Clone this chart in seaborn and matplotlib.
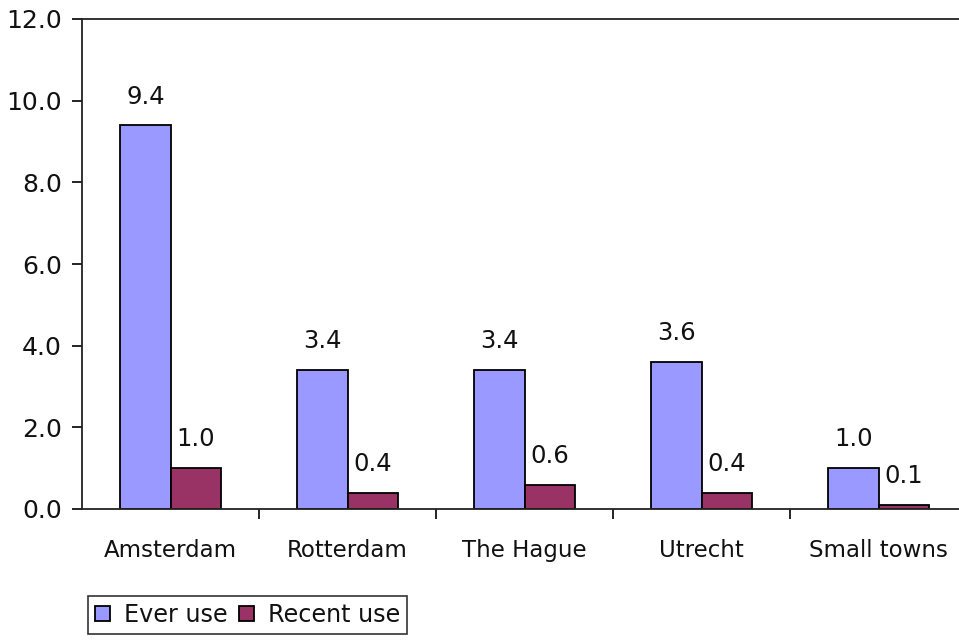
import matplotlib
matplotlib.use("Agg")
import matplotlib.pyplot as plt
import seaborn as sns
import pandas as pd
from matplotlib.ticker import FormatStrFormatter, FixedLocator

cities = ["Amsterdam", "Rotterdam", "The Hague", "Utrecht", "Small towns"]
ever_use = [9.4, 3.4, 3.4, 3.6, 1.0]
recent_use = [1.0, 0.4, 0.6, 0.4, 0.1]
series_names = ["Ever use", "Recent use"]
y_ticks = [0, 2, 4, 6, 8, 10, 12]

df = pd.DataFrame({
    "city": cities * 2,
    "use": [series_names[0]] * len(cities) + [series_names[1]] * len(cities),
    "value": ever_use + recent_use,
})

sns.set_theme(style="white")
plt.rcParams["font.family"] = ["DejaVu Sans"]
plt.rcParams["font.size"] = 16.5

fig = plt.figure(figsize=(9.59, 6.4), dpi=100)
ax = fig.add_axes([82 / 959, 1 - 509 / 640, 885 / 959, 490 / 640])

palette = {"Ever use": "#9999FF", "Recent use": "#993366"}
sns.barplot(data=df, x="city", y="value", hue="use", order=cities,
            hue_order=series_names, palette=palette, width=0.565, gap=0,
            edgecolor="black", linewidth=1.3, saturation=1, ax=ax,
            legend=True)

# value labels above each bar
for container in ax.containers:
    ax.bar_label(container, labels=[f"{v:.1f}" for v in container.datavalues],
                 padding=12, fontsize=17.5, color="#111111")

ax.set_ylim(0, 12)
ax.set_xlim(-0.5, len(cities) - 0.5)
ax.yaxis.set_major_locator(FixedLocator(y_ticks))
ax.yaxis.set_major_formatter(FormatStrFormatter("%.1f"))
ax.set_xlabel("")
ax.set_ylabel("")

# category separators as minor ticks, labels centered without tick marks
ax.set_xticks([i + 0.5 for i in range(len(cities) - 1)], minor=True)
ax.tick_params(axis="x", which="major", length=0, pad=21.5, labelsize=16.5,
               labelcolor="#111111")
ax.tick_params(axis="x", which="minor", length=7, width=1.2, color="black",
               direction="out", bottom=True)
ax.tick_params(axis="y", length=7, width=1.2, color="black", direction="out",
               left=True, pad=7.5, labelsize=18, labelcolor="#111111")

for side in ["left", "bottom", "top", "right"]:
    ax.spines[side].set_visible(True)
    ax.spines[side].set_color("#222222")
    ax.spines[side].set_linewidth(1.3)

# legend below the plot in a thin black box
handles, labels = ax.get_legend_handles_labels()
ax.legend_.remove()
leg = fig.legend(handles, labels, loc="upper left",
                 bbox_to_anchor=(88 / 959, 1 - 596 / 640), ncol=2,
                 frameon=True, fancybox=False, borderaxespad=0,
                 handlelength=0.6, handleheight=0.6, handletextpad=0.6,
                 columnspacing=0.5, borderpad=0.3, fontsize=17.2)
leg.get_frame().set_edgecolor("black")
leg.get_frame().set_linewidth(1.2)
for t in leg.get_texts():
    t.set_color("#111111")

fig.savefig("out.png", dpi=100)
